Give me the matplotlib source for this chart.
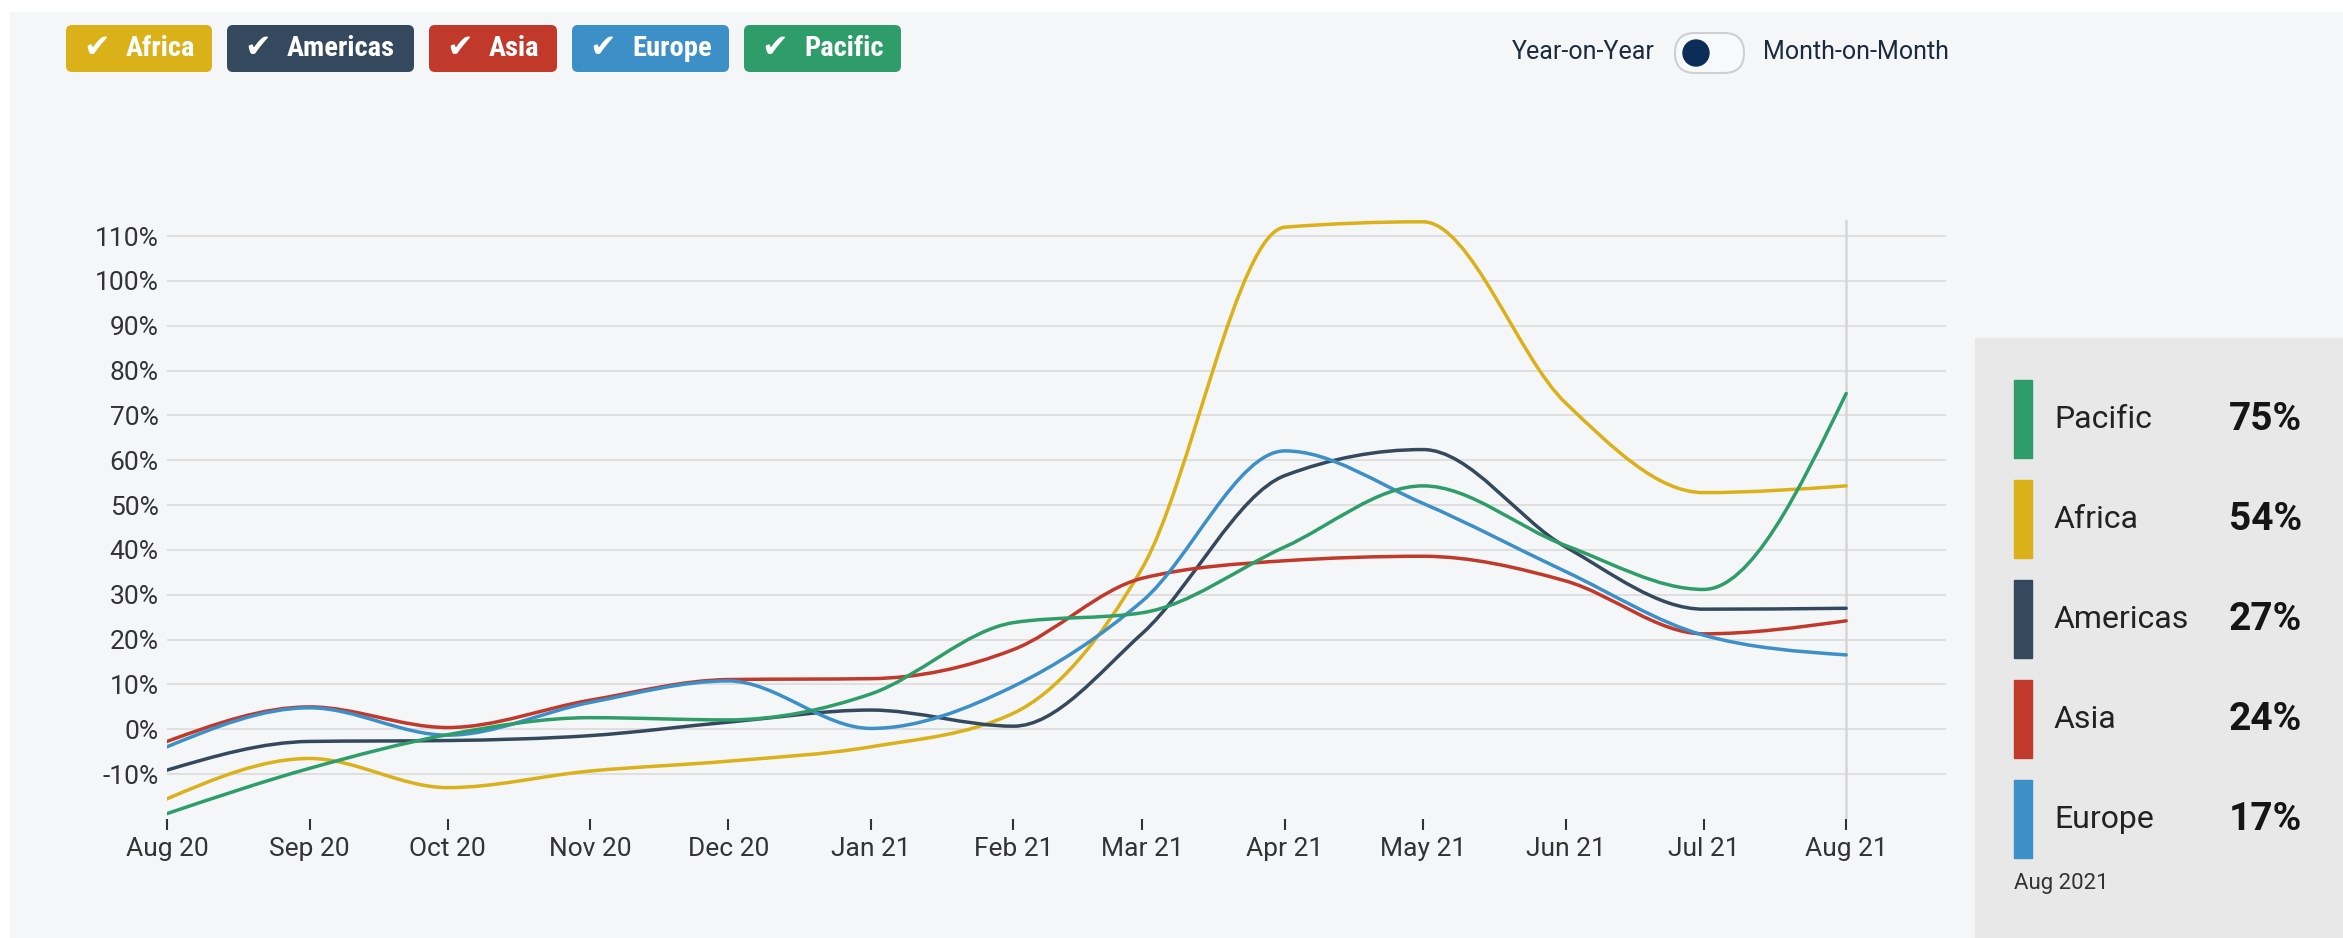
import matplotlib
matplotlib.use('Agg')
import matplotlib.pyplot as plt
import matplotlib.dates as mdates
from matplotlib.path import Path
from matplotlib.patches import PathPatch, FancyBboxPatch, Rectangle, Circle
import numpy as np
import pandas as pd

plt.rcParams['font.family'] = ['Roboto', 'DejaVu Sans']

W, H = 2343, 938

# monthly year-on-year change, Aug 2020 .. Aug 2021
months = pd.date_range('2020-08-01', periods=13, freq='MS')
regions = ['Africa', 'Americas', 'Asia', 'Europe', 'Pacific']
colors = ['#dbb11a', '#34495e', '#c0392b', '#3d8fc8', '#2f9d6a']

africa = [-15.5, -6.5, -13.0, -9.3, -7.1, -3.9, 3.6, 36.0, 112.0, 113.2, 72.8, 52.8, 54.3]
americas = [-9.1, -2.7, -2.5, -1.4, 1.6, 4.3, 0.7, 21.4, 56.6, 62.4, 40.7, 26.8, 27.0]
asia = [-2.7, 5.0, 0.4, 6.5, 11.1, 11.3, 17.8, 33.7, 37.6, 38.6, 33.1, 21.3, 24.2]
europe = [-3.9, 4.8, -1.3, 6.0, 10.8, 0.2, 9.6, 28.6, 62.1, 50.4, 35.2, 21.0, 16.6]
pacific = [-18.8, -8.7, -1.2, 2.6, 2.1, 7.9, 23.8, 26.0, 40.7, 54.3, 41.0, 31.2, 74.9]
series = [africa, americas, asia, europe, pacific]

ytick_vals = list(range(-10, 111, 10))


def monotone_path(xs, ys):
    # cubic bezier segments with monotone (Steffen) tangents, like d3 curveMonotoneX
    xs = np.asarray(xs, float)
    ys = np.asarray(ys, float)
    n = len(xs)
    h = np.diff(xs)
    s = np.diff(ys) / h
    t = np.zeros(n)
    sg = lambda v: -1.0 if v < 0 else 1.0
    for i in range(1, n - 1):
        p = (s[i - 1] * h[i] + s[i] * h[i - 1]) / (h[i - 1] + h[i])
        t[i] = (sg(s[i - 1]) + sg(s[i])) * min(abs(s[i - 1]), abs(s[i]), 0.5 * abs(p))
    t[0] = (3 * s[0] - t[1]) / 2
    t[-1] = (3 * s[-1] - t[-2]) / 2
    verts = [(xs[0], ys[0])]
    codes = [Path.MOVETO]
    for i in range(n - 1):
        dx = h[i] / 3
        verts += [(xs[i] + dx, ys[i] + dx * t[i]),
                  (xs[i + 1] - dx, ys[i + 1] - dx * t[i + 1]),
                  (xs[i + 1], ys[i + 1])]
        codes += [Path.CURVE4] * 3
    return Path(verts, codes)


fig = plt.figure(figsize=(W / 100, H / 100), dpi=100)
fig.patch.set_facecolor('white')

# background layer in pixel coordinates
bg = fig.add_axes([0, 0, 1, 1])
bg.set_xlim(0, W)
bg.set_ylim(H, 0)
bg.axis('off')
bg.add_patch(Rectangle((10, 12), W - 10, H - 12, color='#f4f6f8'))

# region toggle buttons
btn_left = [66, 227, 429, 572, 744]
btn_right = [212, 414, 557, 729, 901]
for name, c, x0, x1 in zip(regions, colors, btn_left, btn_right):
    bg.add_patch(FancyBboxPatch((x0, 25), x1 - x0, 47,
                                boxstyle='round,pad=0,rounding_size=6',
                                facecolor=c, edgecolor='none'))
    bg.text(x0 + 31, 49, '\u2714', color='white', fontsize=23,
            ha='center', va='center', family=['DejaVu Sans'])
    bg.text(x0 + 60, 49, name, color='white', fontsize=20.5, fontweight='bold',
            ha='left', va='center', family=['Liberation Sans Narrow', 'Roboto Condensed', 'Roboto'])

# Year-on-Year / Month-on-Month switch
narrow = ['Liberation Sans Narrow', 'Roboto']
bg.text(1655, 52, 'Year-on-Year', fontsize=18, color='#1c2b3c', ha='right', va='center', family=narrow)
bg.add_patch(FancyBboxPatch((1675, 33), 69, 40, boxstyle='round,pad=0,rounding_size=20',
                            facecolor='#f8f9fb', edgecolor='#cfcfcf', lw=1.5))
bg.add_patch(Circle((1696, 53), 13, color='#0c2d57'))
bg.text(1763, 52, 'Month-on-Month', fontsize=18, color='#1c2b3c', ha='left', va='center', family=narrow)

# right-hand panel with latest values
bg.add_patch(Rectangle((1975, 338), W - 1975, H - 338, color='#e8e8e8'))
order = sorted(range(len(regions)), key=lambda k: series[k][-1], reverse=True)
for i, k in enumerate(order):
    yc = 419 + i * 100
    bg.add_patch(Rectangle((2014, yc - 39), 18, 78, color=colors[k]))
    bg.text(2054, yc, regions[k], fontsize=23, color='#222222', ha='left', va='center')
    bg.text(2302, yc, f'{round(series[k][-1])}%', fontsize=28, fontweight='bold',
            color='#151515', ha='right', va='center')
bg.text(2014, 883, months[-1].strftime('%b %Y'), fontsize=16, color='#333333',
        ha='left', va='center')

# main chart
top, bottom, left, right = 220, 819, 167, 1946
ax = fig.add_axes([left / W, 1 - bottom / H, (right - left) / W, (bottom - top) / H])
ax.set_zorder(1)
ax.patch.set_alpha(0)

xnum = mdates.date2num(months)
for vals, c in zip(series, colors):
    ax.add_patch(PathPatch(monotone_path(xnum, vals), fill=False, edgecolor=c,
                           lw=2.5, capstyle='round', joinstyle='round', zorder=3))

ax.axvline(xnum[-1], color='#d6d6d6', lw=1.8, zorder=2)
ax.set_xlim(xnum[0], xnum[-1] + 21.7)
ax.set_ylim(-20, 113.6)

ax.set_yticks(ytick_vals)
ax.set_yticklabels([f'{v}%' for v in ytick_vals])
ax.yaxis.grid(True, color='#dddddd', lw=1.3)
ax.set_axisbelow(True)

ax.set_xticks(xnum)
ax.set_xticklabels(months.strftime('%b %y'))
ax.tick_params(axis='x', length=8, width=1.5, color='#333333', pad=5,
               labelsize=19, labelcolor='#333333')
ax.tick_params(axis='y', length=0, pad=6, labelsize=19, labelcolor='#333333')
for sp in ax.spines.values():
    sp.set_visible(False)

fig.savefig('out.png', dpi=100, facecolor=fig.get_facecolor())
